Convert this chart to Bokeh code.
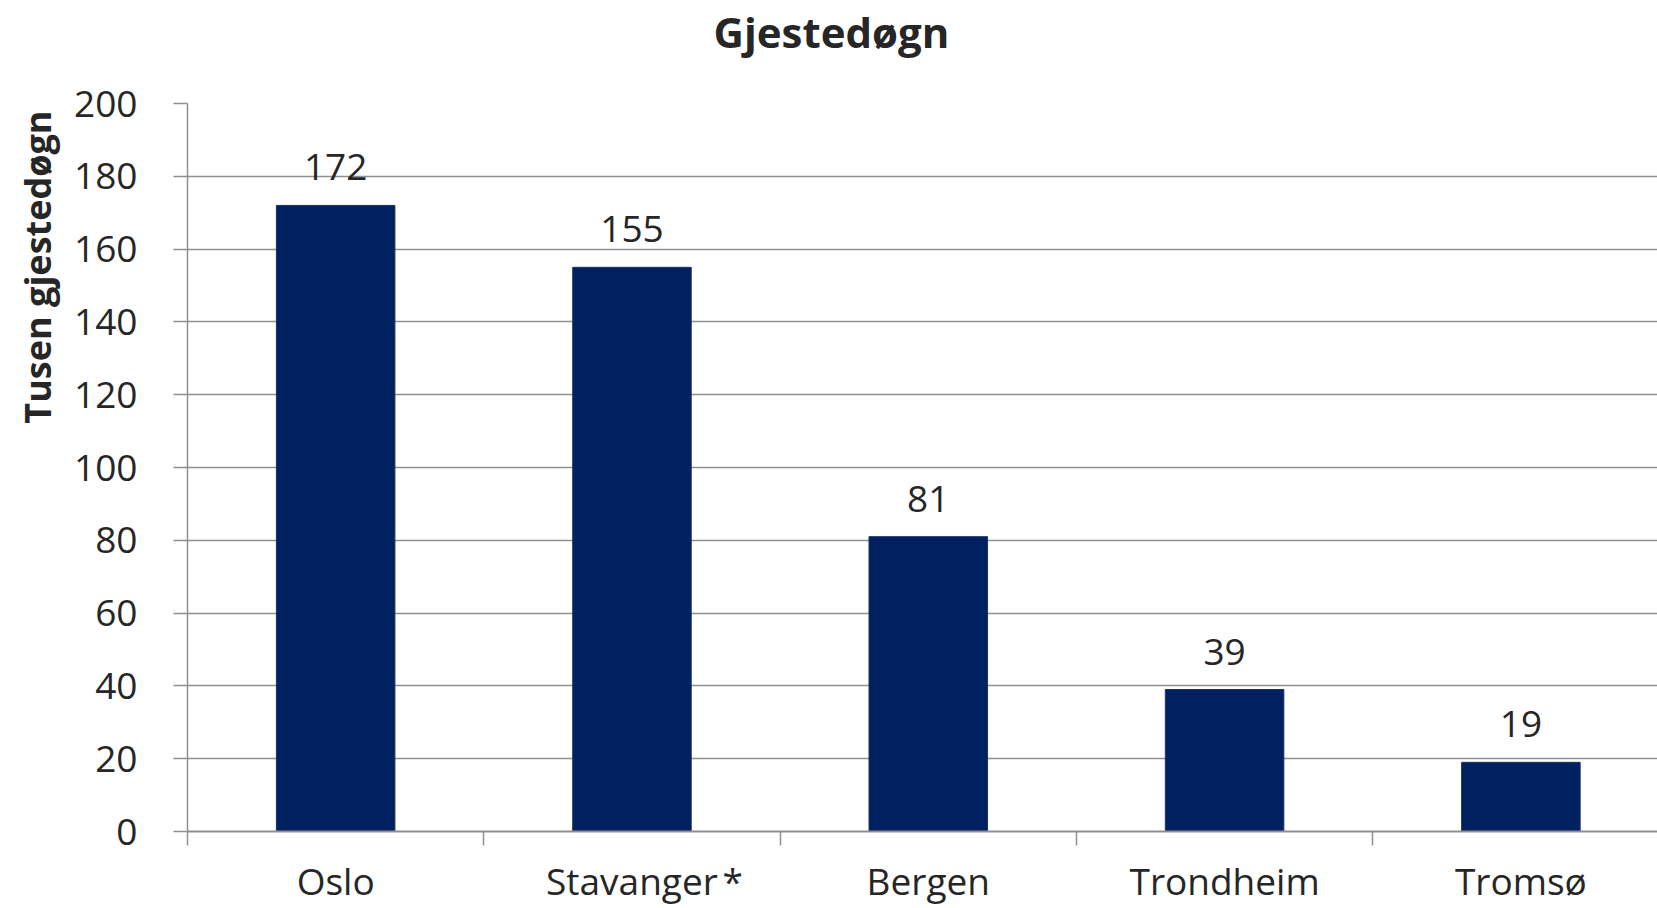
from bokeh.plotting import figure
from bokeh.models import FixedTicker, Title, ColumnDataSource, Range1d
from bokeh.core.properties import value
from bokeh.embed import file_html
from bokeh.resources import INLINE

categories = ["Oslo", "Stavanger", "Bergen", "Trondheim", "Tromsø"]
values = [172, 155, 81, 39, 19]
y_ticks = [0, 20, 40, 60, 80, 100, 120, 140, 160, 180, 200]
footnote_mark = "*"          # marks Stavanger
footnote_pos = 1.84          # just right of the Stavanger label

FONT = "Open Sans"
TXT = "#262626"
GRID = "#8f8f8f"

xs = [i + 0.5 for i in range(len(categories))]
src = ColumnDataSource(dict(x=xs, top=values, lab=[str(v) for v in values], cat=categories))

p = figure(width=1657, height=908, output_backend="svg", toolbar_location=None,
           x_range=Range1d(0, 4.961), y_range=Range1d(0, 200),
           min_border_left=187, min_border_right=0, min_border_bottom=76, min_border_top=0)
p.outline_line_color = None
p.background_fill_color = "white"
p.border_fill_color = "white"

p.vbar(x="x", top="top", width=0.4, bottom=0, source=src, fill_color="#002060", line_color="#1a3366", line_width=1)
p.text(x="x", y="top", text="lab", source=src, text_align="center", text_baseline="alphabetic",
       y_offset=-38, text_font=value(FONT), text_font_size="37px", text_color=TXT)

# axes
p.xaxis.ticker = FixedTicker(ticks=xs + [footnote_pos], minor_ticks=list(range(len(categories) + 1)))
overrides = {x: c for x, c in zip(xs, categories)}
overrides[footnote_pos] = footnote_mark
p.xaxis.major_label_overrides = overrides
p.xaxis.major_tick_line_color = None
p.xaxis.major_tick_out = 14
p.xaxis.major_tick_in = 0
p.xaxis.minor_tick_out = 14
p.xaxis.minor_tick_in = 0
p.xaxis.minor_tick_line_color = GRID
p.xaxis.minor_tick_line_width = 1.5
p.xaxis.major_label_standoff = 9
p.xaxis.axis_line_color = GRID
p.xaxis.axis_line_width = 2

p.yaxis.ticker = FixedTicker(ticks=y_ticks)
p.yaxis.major_tick_out = 14
p.yaxis.major_tick_in = 0
p.yaxis.minor_tick_line_color = None
p.yaxis.major_tick_line_color = GRID
p.yaxis.major_tick_line_width = 1.5
p.yaxis.major_label_standoff = 36
p.yaxis.axis_line_color = GRID
p.yaxis.axis_line_width = 1.5

for ax in (p.xaxis, p.yaxis):
    ax.major_label_text_font = FONT
    ax.major_label_text_font_size = "37px"
    ax.major_label_text_color = TXT

p.xgrid.grid_line_color = None
p.ygrid.ticker = FixedTicker(ticks=y_ticks)
p.ygrid.grid_line_color = GRID
p.ygrid.grid_line_width = 1.5

# y axis title
p.add_layout(Title(text="Tusen gjestedøgn", align="right", text_font=FONT, text_font_size="36px",
                   text_font_style="bold", text_color=TXT, offset=7, standoff=20), "left")

# spacer between frame and title, then the title
p.add_layout(Title(text=" ", text_font_size="1px", standoff=41), "above")
p.add_layout(Title(text="Gjestedøgn", align="left", offset=526, text_font=FONT, text_font_size="42px",
                   text_font_style="bold", text_color=TXT, standoff=0), "above")

open("out.html", "w").write(file_html(p, INLINE))
